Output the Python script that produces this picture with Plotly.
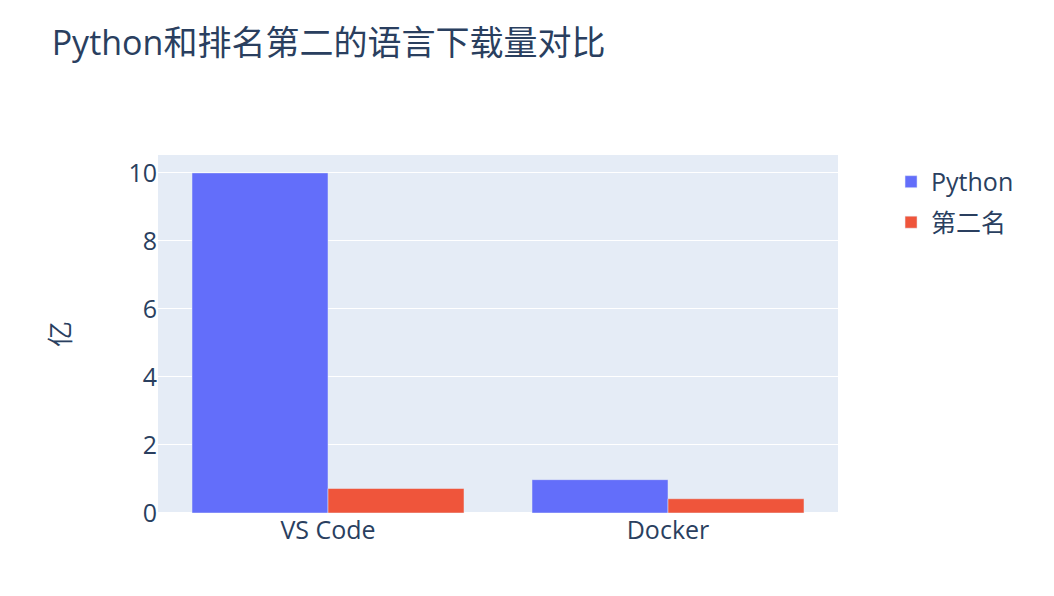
import plotly.graph_objects as go

categories = ["VS Code", "Docker"]
python_vals = [10, 0.98]
second_vals = [0.72, 0.42]
series_names = ["Python", "第二名"]

fig = go.Figure()
fig.add_trace(go.Bar(name=series_names[0], x=categories, y=python_vals, legendgroup="a"))
fig.add_trace(go.Bar(name=series_names[1], x=categories, y=second_vals, legendgroup="b"))
fig.update_layout(
    template="plotly",
    title=dict(text="Python和排名第二的语言下载量对比", font=dict(size=34),
               x=0.049, xanchor="left", xref="container",
               y=0.928, yanchor="middle", yref="container"),
    barmode="group",
    font=dict(size=25, family="Open Sans, Noto Sans CJK SC, sans-serif"),
    width=1054, height=596,
    margin=dict(l=158, r=216, t=155, b=83, autoexpand=False),
    legend=dict(x=1.078, y=0.989, xanchor="left", yanchor="top",
                font=dict(size=25), traceorder="grouped", tracegroupgap=5),
)
fig.update_yaxes(title_text="亿", title_font=dict(size=26), title_standoff=50)
fig.write_html("out.html")
